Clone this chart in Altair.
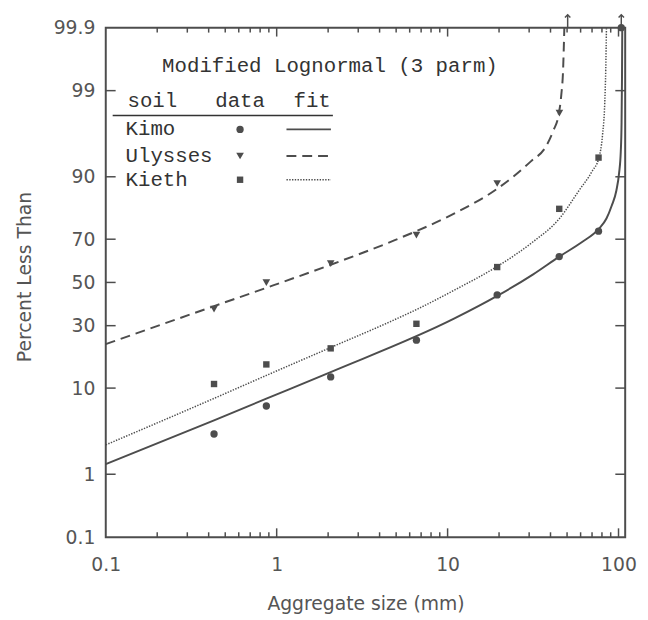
import altair as alt
import pandas as pd
from statistics import NormalDist

# ---------------- data ----------------
soils = ["Kimo", "Ulysses", "Kieth"]

sieve_mm = [0.43, 0.87, 2.07, 6.57, 19.5, 45.0, 76.4]
kimo_pct = [3.3, 6.7, 12.6, 24.2, 44.0, 62.3, 73.3]
kieth_pct = [10.9, 16.0, 21.2, 30.8, 57.4, 81.4, 93.5]
ulysses_mm = [0.43, 0.87, 2.07, 6.57, 19.5, 45.1]
ulysses_pct = [37.3, 49.9, 59.0, 71.7, 88.5, 98.0]
kimo_top_mm = [103.8]
kimo_top_pct = [99.9]

kimo_fit_mm = [0.1, 0.43, 0.87, 2.07, 10.9, 19.5, 31.5, 45.0, 61.2,
               76.4, 85.0, 91.2, 97.1, 100.8, 103.1, 104.2, 104.8, 105.2]
kimo_fit_pct = [1.38, 4.72, 7.93, 13.85, 33.0, 43.5, 53.8, 62.3, 68.8,
                74.1, 78.1, 82.4, 86.7, 90.8, 94.4, 97.4, 99.35, 99.9]

kieth_fit_mm = [0.1, 0.43, 0.87, 2.07, 4.91, 6.57, 10.9, 19.5, 31.5, 45.0, 58.6,
                70.0, 76.8, 80.6, 83.1, 84.2, 85.0]
kieth_fit_pct = [2.44, 7.98, 12.97, 21.5, 32.6, 37.1, 46.2, 57.7, 68.8, 78.0, 86.7,
                 91.1, 93.5, 96.3, 98.56, 99.51, 99.9]

ulysses_fit_mm = [0.1, 0.43, 0.87, 2.07, 4.91, 10.9, 19.5, 30.7, 37.5, 41.5, 44.7,
                  46.3, 47.4, 47.8, 48.2]
ulysses_fit_pct = [22.7, 38.7, 47.4, 58.5, 69.6, 79.8, 87.2, 92.9, 95.0, 96.7, 97.95,
                   98.88, 99.51, 99.76, 99.9]

arrow_mm = [50.4, 103.8]

y_tick_pct = [0.1, 1, 10, 30, 50, 70, 90, 99, 99.9]
y_tick_labels = ["0.1", "1", "10", "30", "50", "70", "90", "99", "99.9"]
x_tick_mm = [0.1, 1, 10, 100]
x_minor_mm = [0.2, 0.3, 0.4, 0.5, 0.6, 0.7, 0.8, 0.9,
              2, 3, 4, 5, 6, 7, 8, 9,
              20, 30, 40, 50, 60, 70, 80, 90]

# ---------------- helpers ----------------
nd = NormalDist()


def probit(p):
    return nd.inv_cdf(p / 100.0)


W, H = 526, 516
INK = "#4d4d4d"
TXT = "#555555"
LEG = "#333333"
AXFONT = "DejaVu Sans"
LEGFONT = "Liberation Mono"

ymin, ymax = probit(0.1), probit(99.9)
xscale = alt.Scale(type="log", domain=[0.1, 109.4], nice=False)
yscale = alt.Scale(type="linear", domain=[ymin, ymax], nice=False, zero=False)

parts = [f"abs(datum.value - ({probit(p):.6f})) < 0.001 ? '{lab}'"
         for p, lab in zip(y_tick_pct, y_tick_labels)]
label_expr = " : ".join(parts) + " : ''"


def frame(mm, pct):
    return pd.DataFrame({"mm": mm, "z": [probit(p) for p in pct], "pct": pct})


xaxis = alt.Axis(values=x_tick_mm, format="~g", ticks=False, domain=False, grid=False,
                 labelFont=AXFONT, labelFontSize=19, labelColor=TXT, labelPadding=19,
                 labelFlush=False, labelOverlap=False,
                 title="Aggregate size (mm)", titleFont=AXFONT, titleFontSize=19,
                 titleFontWeight="normal", titleColor=TXT, titleY=67,
                 titleBaseline="middle")
yaxis = alt.Axis(values=[probit(p) for p in y_tick_pct], labelExpr=label_expr,
                 ticks=False, domain=False, grid=False,
                 labelFont=AXFONT, labelFontSize=19, labelColor=TXT, labelPadding=11,
                 labelFlush=False, labelOverlap=False,
                 title="Percent Less Than", titleFont=AXFONT, titleFontSize=19,
                 titleFontWeight="normal", titleColor=TXT, titleX=-82, titleY=252,
                 titleBaseline="middle", titleAngle=-90, titleAlign="center")

X = alt.X("mm:Q", scale=xscale, axis=xaxis)
Y = alt.Y("z:Q", scale=yscale, axis=yaxis)

# fitted curves
kimo_line = alt.Chart(frame(kimo_fit_mm, kimo_fit_pct)).mark_line(
    color=INK, strokeWidth=2, interpolate="monotone"
).encode(x=X, y=Y)

uly_line = alt.Chart(frame(ulysses_fit_mm, ulysses_fit_pct)).mark_line(
    color=INK, strokeWidth=2, strokeDash=[10, 6], interpolate="monotone"
).encode(x=X, y=Y)

kieth_line = alt.Chart(frame(kieth_fit_mm, kieth_fit_pct)).mark_line(
    color=INK, strokeWidth=1.5, strokeDash=[1.4, 1.4], interpolate="monotone"
).encode(x=X, y=Y)

# data points
kimo_pts = alt.Chart(frame(sieve_mm + kimo_top_mm, kimo_pct + kimo_top_pct)).mark_point(
    shape="circle", filled=True, size=55, color=INK, opacity=1
).encode(x=X, y=Y)
uly_pts = alt.Chart(frame(ulysses_mm, ulysses_pct)).mark_point(
    shape="triangle-down", filled=True, size=60, color=INK, opacity=1
).encode(x=X, y=Y)
kieth_pts = alt.Chart(frame(sieve_mm, kieth_pct)).mark_point(
    shape="square", filled=True, size=42, color=INK, opacity=1
).encode(x=X, y=Y)


# inward tick marks on all four sides
def xticks(values, length, top):
    df = pd.DataFrame({"mm": values})
    if top:
        y0, y1 = 0, length
    else:
        y0, y1 = H, H - length
    return alt.Chart(df).mark_rule(color=INK, strokeWidth=1.5).encode(
        x=X, y=alt.value(y0), y2=alt.value(y1))


def yticks(values, length, right):
    df = pd.DataFrame({"z": [probit(p) for p in values]})
    if right:
        x0, x1 = W, W - length
    else:
        x0, x1 = 0, length
    return alt.Chart(df).mark_rule(color=INK, strokeWidth=1.5).encode(
        y=Y, x=alt.value(x0), x2=alt.value(x1))


inner_y = y_tick_pct[1:-1]
tick_layers = [
    xticks(x_tick_mm[1:], 9, False), xticks(x_tick_mm[1:], 9, True),
    xticks(x_minor_mm, 5, False), xticks(x_minor_mm, 5, True),
    yticks(inner_y, 10, False), yticks(inner_y, 10, True),
]

# off-scale arrows above the frame
arrow_df = pd.DataFrame({"mm": arrow_mm})
arrow_stem = alt.Chart(arrow_df).mark_rule(color=INK, strokeWidth=1.5).encode(
    x=X, y=alt.value(0), y2=alt.value(-13))
arrow_head = alt.Chart(arrow_df).mark_point(
    shape="M-1,0.6L0,-0.4L1,0.6", filled=False, size=30, color=INK,
    strokeWidth=1.5, opacity=1
).encode(x=X, y=alt.value(-12))

# ---------------- in-plot legend ----------------
one = alt.Data(values=[{"a": 1}])


def ltext(txt, x, y, align="left", size=21):
    return alt.Chart(one).mark_text(
        text=txt, font=LEGFONT, fontSize=size, color=LEG, align=align,
        baseline="middle"
    ).encode(x=alt.value(x), y=alt.value(y))


legend_layers = [
    ltext("Modified Lognormal (3 parm)", 227, 39, "center"),
    ltext("soil", 22, 74),
    ltext("data", 136, 74, "center"),
    ltext("fit", 209, 74, "center"),
    alt.Chart(one).mark_rule(color=LEG, strokeWidth=1.5).encode(
        x=alt.value(7), x2=alt.value(230), y=alt.value(89)),
]
row_y = [103, 130, 154]
row_shape = ["circle", "triangle-down", "square"]
row_size = [55, 60, 42]
row_dash = [[1, 0], [10, 6], [1.4, 1.4]]
row_width = [2, 2, 1.5]
for name, yy, shp, sz, dash, sw in zip(soils, row_y, row_shape, row_size, row_dash, row_width):
    legend_layers.append(ltext(name, 20, yy))
    legend_layers.append(alt.Chart(one).mark_point(
        shape=shp, filled=True, size=sz, color=INK, opacity=1
    ).encode(x=alt.value(136), y=alt.value(yy)))
    legend_layers.append(alt.Chart(one).mark_rule(
        color=INK, strokeWidth=sw, strokeDash=dash
    ).encode(x=alt.value(183), x2=alt.value(228), y=alt.value(yy)))

chart = alt.layer(
    kimo_line, uly_line, kieth_line, kimo_pts, uly_pts, kieth_pts,
    *tick_layers, arrow_stem, arrow_head, *legend_layers
).properties(
    width=W, height=H,
    autosize=alt.AutoSizeParams(type="none"),
    padding={"left": 99, "top": 16, "right": 15, "bottom": 86},
    background="white",
).configure_view(stroke=INK, strokeWidth=2)

chart.save("out.html", embed_options={"renderer": "svg", "actions": False})
